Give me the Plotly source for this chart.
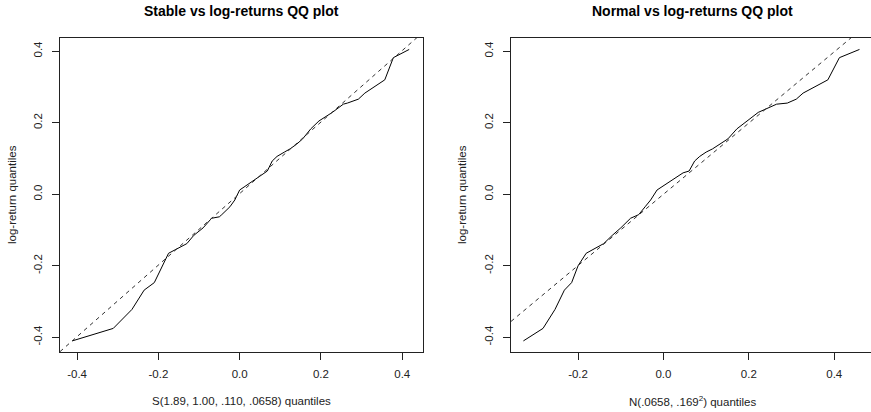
import plotly.graph_objects as go

W, H = 871, 412

# sorted log-return quantiles (shared y values)
logret_q = [-0.410, -0.375, -0.322, -0.268, -0.247, -0.200, -0.165, -0.153, -0.138,
            -0.115, -0.094, -0.067, -0.063, -0.057, -0.035, -0.016, 0.012, 0.022,
            0.038, 0.060, 0.065, 0.093, 0.106, 0.118, 0.127, 0.140, 0.155, 0.183,
            0.205, 0.229, 0.252, 0.255, 0.266, 0.283, 0.320, 0.382, 0.405]

# theoretical quantiles, stable S(1.89, 1.00, .110, .0658)
stable_q = [-0.412, -0.311, -0.265, -0.235, -0.210, -0.190, -0.175, -0.155, -0.130,
            -0.113, -0.090, -0.069, -0.050, -0.044, -0.024, -0.012, 0.000, 0.013,
            0.033, 0.060, 0.068, 0.080, 0.092, 0.110, 0.124, 0.140, 0.155, 0.175,
            0.195, 0.228, 0.255, 0.265, 0.292, 0.308, 0.357, 0.378, 0.417]

# theoretical quantiles, normal N(.0658, .169^2)
normal_q = [-0.328, -0.282, -0.254, -0.232, -0.215, -0.200, -0.181, -0.163, -0.140,
            -0.120, -0.100, -0.077, -0.068, -0.058, -0.043, -0.030, -0.015, -0.002,
            0.017, 0.046, 0.060, 0.073, 0.085, 0.100, 0.115, 0.132, 0.151, 0.172,
            0.195, 0.222, 0.265, 0.290, 0.311, 0.327, 0.385, 0.412, 0.459]

# reference (qqline) intercept and slope
stable_line = (0.002, 1.0)
normal_line = (0.0, 0.996)

titles = ["Stable vs log-returns QQ plot", "Normal vs log-returns QQ plot"]
xtitles = ["S(1.89, 1.00, .110, .0658) quantiles", "N(.0658, .169<sup>2</sup>) quantiles"]
ytitle = "log-return quantiles"
x_ticks_left = [-0.4, -0.2, 0.0, 0.2, 0.4]
x_ticks_right = [-0.2, 0.0, 0.2, 0.4]
y_ticks = [-0.4, -0.2, 0.0, 0.2, 0.4]

xrange_left = [-0.442, 0.451]
xrange_right = [-0.357, 0.486]
yrange = [-0.441, 0.437]

# pixel layout
L1, R1 = 60, 423
L2, R2 = 511, 871
T, B = 38, 352

FONT = "Liberation Sans, Arial, sans-serif"
AX = "#222222"

fig = go.Figure()

for xs, xa, ya in [(stable_q, "x", "y"), (normal_q, "x2", "y2")]:
    fig.add_trace(go.Scatter(x=xs, y=logret_q, mode="lines", xaxis=xa, yaxis=ya,
                             line=dict(color="black", width=1), showlegend=False,
                             hoverinfo="skip"))

for (a, b), rng, xa, ya in [(stable_line, xrange_left, "x", "y"),
                            (normal_line, xrange_right, "x2", "y2")]:
    xs = [rng[0], rng[1]]
    ys = [a + b * v for v in xs]
    fig.add_trace(go.Scatter(x=xs, y=ys, mode="lines", xaxis=xa, yaxis=ya,
                             line=dict(color="#333333", width=1, dash="4px,4px"),
                             showlegend=False, hoverinfo="skip"))

def xax(domain, rng, ticks):
    return dict(domain=domain, range=rng, tickvals=ticks,
                ticktext=[f"{t:.1f}" for t in ticks],
                showgrid=False, zeroline=False, showline=True, linecolor=AX,
                linewidth=1, mirror=True, ticks="outside", ticklen=7,
                tickcolor=AX, tickwidth=1,
                tickfont=dict(family=FONT, size=11.5, color="#222"),
                ticklabelstandoff=4, fixedrange=True)

def yax(domain, anchor, mirror):
    return dict(domain=domain, range=yrange, tickvals=y_ticks,
                ticktext=[f"{t:.1f}" for t in y_ticks], anchor=anchor,
                showgrid=False, zeroline=False, showline=True, linecolor=AX,
                linewidth=1, mirror=mirror, ticks="outside", ticklen=7,
                tickcolor=AX, tickwidth=1, tickangle=-90,
                tickfont=dict(family=FONT, size=11.5, color="#222"),
                ticklabelstandoff=5, fixedrange=True)

ydom = [1 - B / H, 1 - T / H]
fig.update_layout(
    width=W, height=H, margin=dict(l=0, r=0, t=0, b=0),
    paper_bgcolor="white", plot_bgcolor="white",
    xaxis=xax([L1 / W, R1 / W], xrange_left, x_ticks_left),
    yaxis=yax(ydom, "x", True),
    xaxis2=xax([L2 / W, R2 / W], xrange_right, x_ticks_right),
    yaxis2=yax(ydom, "x2", False),
)

ann = []
for i, (l, r) in enumerate([(L1, R1), (L2, 874)]):
    cx = (l + r) / 2 / W
    ann.append(dict(text=f"<b>{titles[i]}</b>", x=cx, y=1 - 11 / H, xref="paper",
                    yref="paper", xanchor="center", yanchor="middle", showarrow=False,
                    font=dict(family=FONT, size=14, color="black")))
    ann.append(dict(text=xtitles[i], x=cx, y=1 - 401 / H, xref="paper", yref="paper",
                    xanchor="center", yanchor="middle", showarrow=False,
                    font=dict(family=FONT, size=11.5, color="#222")))
    yx = [12, 462][i]
    ann.append(dict(text=ytitle, x=yx / W, y=1 - 195 / H, xref="paper", yref="paper",
                    xanchor="center", yanchor="middle", showarrow=False, textangle=-90,
                    font=dict(family=FONT, size=11.5, color="#222")))
fig.update_layout(annotations=ann)

fig.write_html("out.html", config={"displayModeBar": False},
               post_script="document.body.style.margin='0';document.body.style.overflow='hidden';")
